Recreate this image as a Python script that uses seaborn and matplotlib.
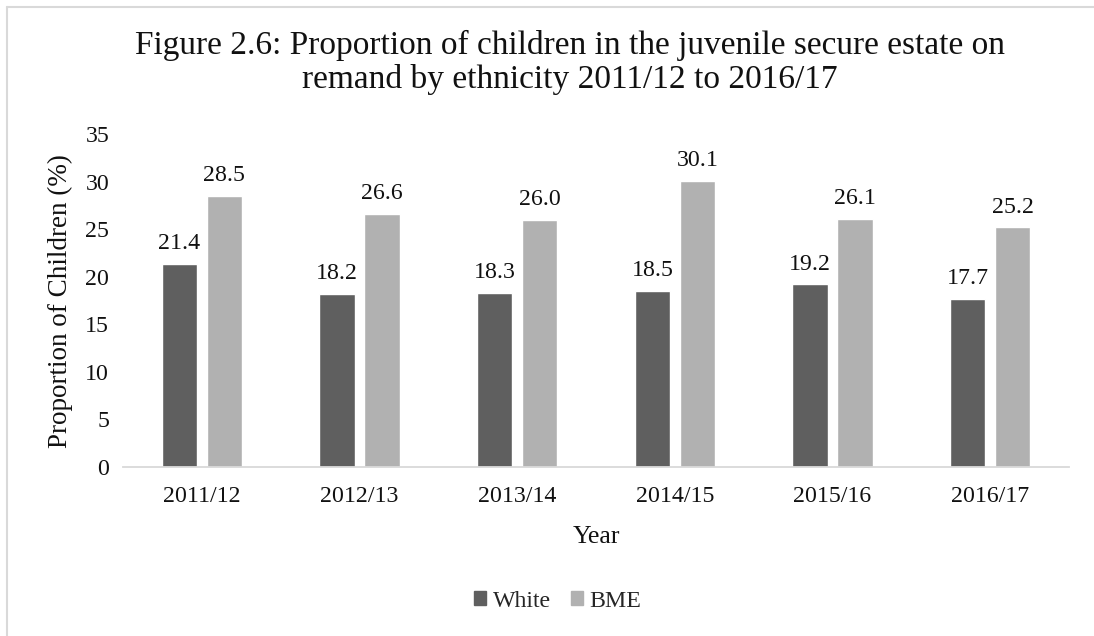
import matplotlib
matplotlib.use("Agg")
import matplotlib.pyplot as plt
import seaborn as sns
import pandas as pd
from matplotlib.lines import Line2D

years = ["2011/12", "2012/13", "2013/14", "2014/15", "2015/16", "2016/17"]
white = [21.4, 18.2, 18.3, 18.5, 19.2, 17.7]
bme = [28.5, 26.6, 26.0, 30.1, 26.1, 25.2]
groups = ["White", "BME"]
colors = ["#5f5f5f", "#b1b1b1"]

df = pd.DataFrame({
    "Year": years * 2,
    "Group": ["White"] * len(years) + ["BME"] * len(years),
    "Value": white + bme,
})

sns.set_theme(style="white")
plt.rcParams['font.family'] = ['Liberation Serif', 'DejaVu Serif']

fig = plt.figure(figsize=(10.94, 6.36), dpi=100)
ax = fig.add_axes([0.1124, 0.2657, 0.8647, 0.5233])

sns.barplot(data=df, x="Year", y="Value", hue="Group", hue_order=groups,
            palette=colors, width=0.57, gap=0.21, ax=ax, legend=False,
            saturation=1)

for cont in ax.containers:
    ax.bar_label(cont, fmt="%.1f", padding=7, fontsize=17.2, color="#111111")

ax.set_ylim(0, 35)
ax.set_yticks(range(0, 36, 5))
ax.set_xlim(-0.5, 5.5)
for s in ["left", "right", "top"]:
    ax.spines[s].set_visible(False)
ax.spines["bottom"].set_color("#d9d9d9")
ax.spines["bottom"].set_linewidth(1.3)
ax.tick_params(axis="both", length=0, labelsize=17.2, colors="#111111")
ax.tick_params(axis="x", pad=14)
ax.tick_params(axis="y", pad=10)
ax.set_xlabel("Year", fontsize=18.5, color="#111111", labelpad=13)
ax.set_ylabel("Proportion of Children (%)", fontsize=19.5, color="#111111", labelpad=9)

fig.text(0.521, 0.902, "Figure 2.6: Proportion of children in the juvenile secure estate on\nremand by ethnicity 2011/12 to 2016/17",
         ha="center", va="center", fontsize=24, color="#111111", linespacing=1.1)

handles = [plt.Rectangle((0, 0), 1, 1, color=c) for c in colors]
fig.legend(handles, groups, loc="center", bbox_to_anchor=(0.51, 0.055), ncol=2,
           frameon=False, fontsize=17.2, handlelength=0.5, handleheight=0.5,
           handletextpad=0.3, columnspacing=0.8)

fig.add_artist(Line2D([7/1094, 7/1094], [0, 1 - 7/636], transform=fig.transFigure,
                      color="#d9d9d9", lw=1.5))
fig.add_artist(Line2D([7/1094, 1], [1 - 7/636, 1 - 7/636], transform=fig.transFigure,
                      color="#d9d9d9", lw=1.5))

fig.savefig("out.png", dpi=100)
